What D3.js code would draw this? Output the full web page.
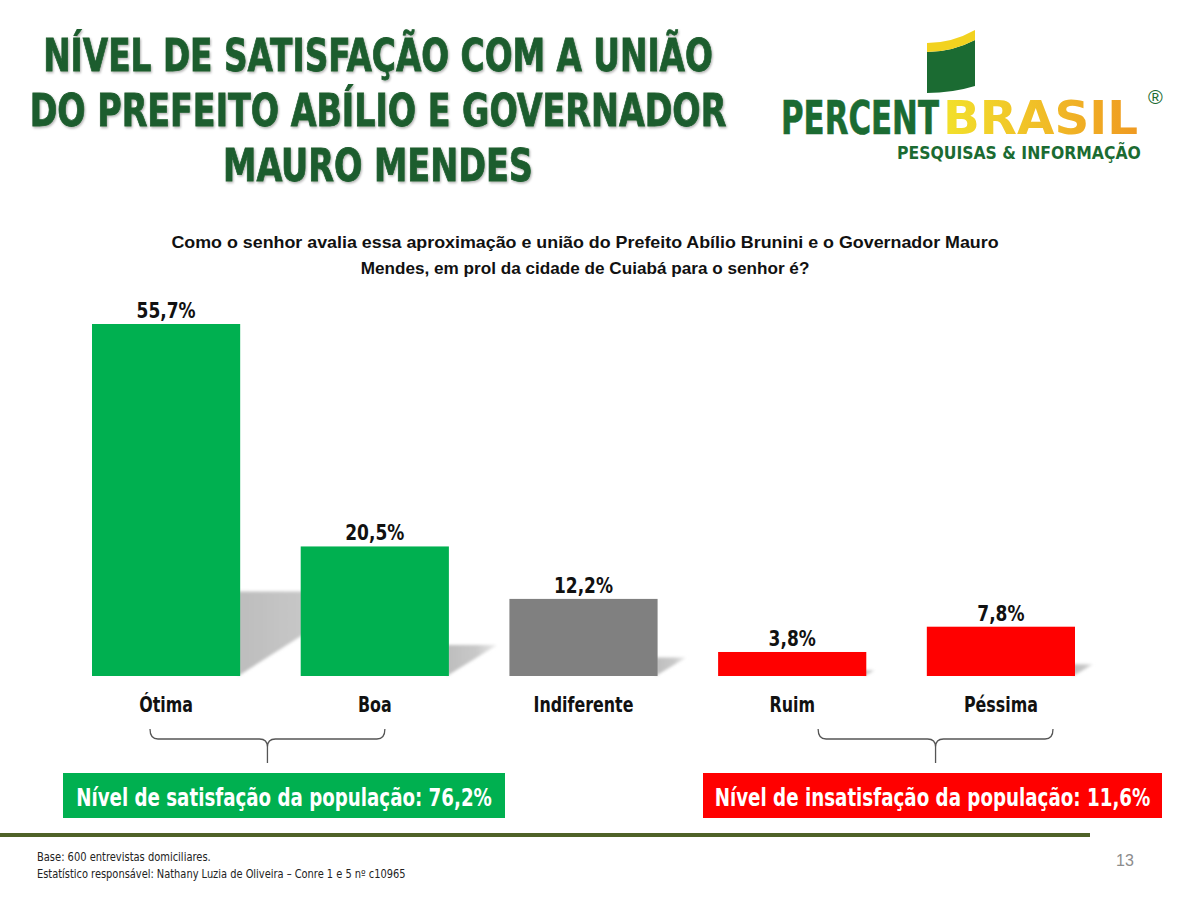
<!DOCTYPE html>
<html>
<head>
<meta charset="utf-8">
<script src="https://cdn.jsdelivr.net/npm/d3@7"></script>
<style>
  html, body { margin: 0; padding: 0; background: #fff; }
  svg { display: block; }
</style>
</head>
<body>
<script>
// ---------------- DATA ----------------
const categories = ["Ótima", "Boa", "Indiferente", "Ruim", "Péssima"];
const values = [55.7, 20.5, 12.2, 3.8, 7.8];
const groups = ["pos", "pos", "neu", "neg", "neg"];
const titleLines = ["NÍVEL DE SATISFAÇÃO COM A UNIÃO", "DO PREFEITO ABÍLIO E GOVERNADOR", "MAURO MENDES"];
const questionLines = ["Como o senhor avalia essa aproximação e união do Prefeito Abílio Brunini e o Governador Mauro",
                       "Mendes, em prol da cidade de Cuiabá para o senhor é?"];
const summaryLabels = { pos: "Nível de satisfação da população: ", neg: "Nível de insatisfação da população: " };
const footerLines = ["Base: 600 entrevistas domiciliares.",
                     "Estatístico responsável: Nathany Luzia de Oliveira – Conre 1 e 5 nº c10965"];
const pageNumber = "13";

// ---------------- STYLE ----------------
const groupColor = { pos: "#00b050", neu: "#808080", neg: "#ff0000" };
const narrow = "'Liberation Sans Narrow', 'DejaVu Sans Condensed', 'Arial Narrow', sans-serif";
const sans = "'Liberation Sans', Arial, sans-serif";
const darkGreen = "#1e5d2e";

const W = 1200, H = 900;
const svg = d3.select("body").append("svg").attr("width", W).attr("height", H);

const locale = d3.formatLocale({ decimal: ",", thousands: ".", grouping: [3], currency: ["R$", ""] });
const fmt = v => locale.format(".1f")(v) + "%";

// horizontally squeeze texts (narrow-font look)
function squeeze(sel, factor) {
  sel.each(function () {
    const len = this.getComputedTextLength();
    d3.select(this).attr("textLength", len * factor).attr("lengthAdjust", "spacingAndGlyphs");
  });
}
// place a text at (x, y) and scale it horizontally so its width equals w
function fitText(g, str, x, y, w, anchor, attrs) {
  const t = g.append("text").attr("text-anchor", anchor).text(str);
  Object.entries(attrs).forEach(([k, v]) => t.attr(k, v));
  const sx = w / t.node().getComputedTextLength();
  t.attr("transform", `translate(${x},${y}) scale(${sx},1)`);
  return t;
}

// defs
const defs = svg.append("defs");
const blur = defs.append("filter").attr("id", "blur").attr("x", "-30%").attr("y", "-30%").attr("width", "160%").attr("height", "160%");
blur.append("feGaussianBlur").attr("stdDeviation", 1.6);
const sg = defs.append("linearGradient").attr("id", "shadowGrad").attr("x1", 0).attr("x2", 1).attr("y1", 0).attr("y2", 0);
sg.append("stop").attr("offset", "0%").attr("stop-color", "#bdbdbd");
sg.append("stop").attr("offset", "60%").attr("stop-color", "#c9c9c9");
sg.append("stop").attr("offset", "100%").attr("stop-color", "#ececec");
const bg = defs.append("linearGradient").attr("id", "brasilGrad").attr("x1", 0).attr("x2", 1).attr("y1", 0).attr("y2", 0);
bg.append("stop").attr("offset", "0%").attr("stop-color", "#f2e12c");
bg.append("stop").attr("offset", "100%").attr("stop-color", "#ef9a22");
const ts = defs.append("filter").attr("id", "tshadow").attr("x", "-5%").attr("y", "-5%").attr("width", "110%").attr("height", "120%");
ts.append("feDropShadow").attr("dx", 1).attr("dy", 1.5).attr("stdDeviation", 1).attr("flood-color", "#000").attr("flood-opacity", 0.3);

// ---------------- TITLE ----------------
const titleG = svg.append("g").attr("filter", "url(#tshadow)");
const titleWidths = [670, 697, 310];
titleLines.forEach((t, i) => {
  fitText(titleG, t, 378, 71 + i * 55, titleWidths[i], "middle", {
    "font-family": narrow, "font-weight": "bold", "font-size": 44,
    fill: darkGreen, stroke: darkGreen, "stroke-width": 0.8 });
});

// ---------------- LOGO ----------------
const logo = svg.append("g");
logo.append("path").attr("d", "M927,52 Q952,52 975,40 L975,86 Q952,93 927,93 Z").attr("fill", "#1b6b32");
logo.append("path").attr("d", "M927,43 Q952,43 975,30 L975,40 Q952,52 927,52 Z").attr("fill", "#f2d21f");
fitText(logo, "PERCENT", 781, 134, 158, "start", {
  "font-family": narrow, "font-weight": "bold", "font-size": 46,
  fill: "#1b6b32", stroke: "#1b6b32", "stroke-width": 0.6 });
fitText(logo, "BRASIL", 943, 134, 195, "start", {
  "font-family": narrow, "font-weight": "bold", "font-size": 46, fill: "url(#brasilGrad)" });
logo.append("text").attr("x", 1148).attr("y", 104)
  .attr("font-family", sans).attr("font-size", 20).attr("fill", "#1b6b32").text("®");
fitText(logo, "PESQUISAS & INFORMAÇÃO", 897, 159, 244, "start", {
  "font-family": narrow, "font-weight": "bold", "font-size": 17, fill: "#1b6b32" });

// ---------------- QUESTION ----------------
const qWidths = [828, 449];
questionLines.forEach((t, i) => {
  fitText(svg, t, 585, 248 + i * 26, qWidths[i], "middle", {
    "font-family": sans, "font-weight": "bold", "font-size": 16, fill: "#111" });
});

// ---------------- CHART ----------------
const baseY = 676;
const x = d3.scaleBand().domain(categories).range([92, 1075]).paddingInner(0.29).paddingOuter(0);
const y = d3.scaleLinear().domain([0, 55.7]).range([baseY, 324]);
const data = categories.map((c, i) => ({ cat: c, value: values[i], group: groups[i] }));

// perspective shadows (skewed wedge to the right of each bar)
svg.append("g").attr("filter", "url(#blur)")
  .selectAll("path").data(data).join("path")
  .attr("fill", "url(#shadowGrad)")
  .attr("d", d => {
    const xr = x(d.cat) + x.bandwidth();
    const sh = (baseY - y(d.value)) * 0.24;
    return `M${xr - 2},${baseY} L${xr - 2},${baseY - sh} L${xr + sh * 1.55},${baseY - sh} Z`;
  });

svg.append("g").selectAll("rect").data(data).join("rect")
  .attr("x", d => x(d.cat)).attr("width", x.bandwidth())
  .attr("y", d => y(d.value)).attr("height", d => baseY - y(d.value))
  .attr("fill", d => groupColor[d.group]);

svg.append("g").selectAll("text").data(data).join("text")
  .attr("x", d => x(d.cat) + x.bandwidth() / 2)
  .attr("y", d => y(d.value) - 6)
  .attr("text-anchor", "middle")
  .attr("font-family", narrow).attr("font-weight", "bold").attr("font-size", 22)
  .attr("fill", "#111")
  .text(d => fmt(d.value))
  .call(squeeze, 0.86);

// category axis labels
const xAxis = d3.axisBottom(x).tickSize(0).tickPadding(0);
const axG = svg.append("g").attr("transform", `translate(0,${baseY})`).call(xAxis);
axG.select(".domain").remove();
axG.selectAll("text")
  .attr("y", 36).attr("dy", 0)
  .attr("font-family", narrow).attr("font-weight", "bold").attr("font-size", 21)
  .attr("fill", "#111")
  .call(squeeze, 0.84);

// ---------------- BRACES & SUMMARY ----------------
const satis = d3.sum(data.filter(d => d.group === "pos"), d => d.value);
const insat = d3.sum(data.filter(d => d.group === "neg"), d => d.value);

function brace(x0, x1) {
  const m = (x0 + x1) / 2, top = 729, mid = 739, tip = 763;
  return `M${x0},${top} Q${x0},${mid} ${x0 + 8},${mid} L${m - 8},${mid} Q${m},${mid} ${m},${mid + 8} L${m},${tip} M${m},${mid + 8} Q${m},${mid} ${m + 8},${mid} L${x1 - 8},${mid} Q${x1},${mid} ${x1},${top}`;
}
const posCats = data.filter(d => d.group === "pos").map(d => d.cat);
const negCats = data.filter(d => d.group === "neg").map(d => d.cat);
const braceSpans = [
  [x(posCats[0]) + 58, x(posCats[posCats.length - 1]) + x.bandwidth() - 64],
  [x(negCats[0]) + 100, x(negCats[negCats.length - 1]) + x.bandwidth() - 22]
];
svg.append("g").selectAll("path").data(braceSpans).join("path")
  .attr("d", d => brace(d[0], d[1]))
  .attr("fill", "none").attr("stroke", "#555").attr("stroke-width", 1.3);

const boxes = [
  { x0: 63, x1: 505, tw: 416, color: groupColor.pos, text: summaryLabels.pos + fmt(satis) },
  { x0: 703, x1: 1162, tw: 436, color: groupColor.neg, text: summaryLabels.neg + fmt(insat) }
];
const boxG = svg.append("g");
boxes.forEach(b => {
  boxG.append("rect").attr("x", b.x0).attr("y", 773).attr("width", b.x1 - b.x0).attr("height", 45).attr("fill", b.color);
  fitText(boxG, b.text, (b.x0 + b.x1) / 2, 806, b.tw, "middle", {
    "font-family": narrow, "font-weight": "bold", "font-size": 25, fill: "#fff" });
});

// ---------------- FOOTER ----------------
svg.append("rect").attr("x", 0).attr("y", 833).attr("width", 1090).attr("height", 4).attr("fill", "#4f6228");
footerLines.forEach((t, i) => {
  fitText(svg, t, 37, 861 + i * 17, i === 0 ? 174 : 369, "start", {
    "font-family": narrow, "font-size": 11.5, fill: "#222" });
});
svg.append("text").attr("x", 1125).attr("y", 866).attr("text-anchor", "middle")
  .attr("font-family", sans).attr("font-size", 16).attr("fill", "#8c8c8c").text(pageNumber);
</script>
</body>
</html>
